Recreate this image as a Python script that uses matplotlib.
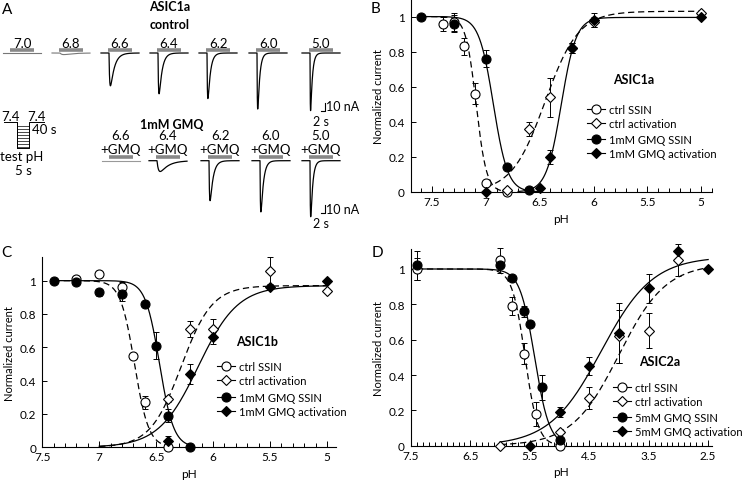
import numpy as np
import matplotlib
matplotlib.use("Agg")
import matplotlib.pyplot as plt
from matplotlib.lines import Line2D
from matplotlib.ticker import MultipleLocator, FuncFormatter

plt.rcParams['font.family'] = ['Lato', 'DejaVu Sans']
plt.rcParams['font.size'] = 7.5

# ---------------- panel A: traces (peak amplitudes in nA) ----------------
ctrl_labels = ["7.0", "6.8", "6.6", "6.4", "6.2", "6.0", "5.0"]
ctrl_peak = [0, 2, 41, 51, 57, 70, 72]
ctrl_rise = [1, 3, 0.8, 0.6, 0.5, 0.4, 0.3]
ctrl_decay = [5, 8, 4, 3, 2.5, 2, 1.8]
gmq_labels = ["6.6", "6.4", "6.2", "6.0", "5.0"]
gmq_peak = [0, 13.5, 50, 64, 70]
gmq_rise = [1, 2.0, 0.6, 0.5, 0.4]
gmq_decay = [5, 8, 3, 2.5, 2]

# ---------------- panel B: ASIC1a ----------------
b_ctrl_ssin_ph = [7.4, 7.3, 7.2, 7.1, 7.0, 6.8]
b_ctrl_ssin = [0.96, 0.97, 0.83, 0.56, 0.05, 0.0]
b_ctrl_ssin_err = [0.04, 0.05, 0.05, 0.06, 0, 0]
b_ctrl_act_ph = [6.8, 6.6, 6.4, 6.2, 6.0, 5.0]
b_ctrl_act = [0.01, 0.36, 0.54, 0.82, 0.97, 1.02]
b_ctrl_act_err = [0, 0.04, 0.11, 0.03, 0.03, 0]
b_gmq_ssin_ph = [7.6, 7.3, 7.0, 6.8, 6.6]
b_gmq_ssin = [1.0, 0.96, 0.76, 0.14, 0.01]
b_gmq_ssin_err = [0, 0.05, 0.05, 0, 0]
b_gmq_act_ph = [7.0, 6.5, 6.4, 6.2, 6.0, 5.0]
b_gmq_act = [0.0, 0.02, 0.2, 0.82, 0.98, 1.0]
b_gmq_act_err = [0, 0, 0.04, 0.03, 0.04, 0]
# Hill fits: (pH50, n, max, pH from, pH to)
b_fits = {"ctrl_ssin": (7.09, 9, 1.0, 7.6, 6.8), "ctrl_act": (6.45, 2.8, 1.03, 7.0, 5.0),
          "gmq_ssin": (6.93, 6.5, 1.0, 7.6, 6.5), "gmq_act": (6.3, 6.3, 0.995, 6.7, 5.0)}

# ---------------- panel C: ASIC1b ----------------
c_ctrl_ssin_ph = [7.2, 7.0, 6.8, 6.7, 6.6, 6.4]
c_ctrl_ssin = [1.01, 1.04, 0.96, 0.55, 0.27, 0.0]
c_ctrl_ssin_err = [0.02, 0.02, 0.03, 0, 0.04, 0]
c_ctrl_act_ph = [6.4, 6.2, 6.0, 5.5, 5.0]
c_ctrl_act = [0.29, 0.71, 0.71, 1.06, 0.94]
c_ctrl_act_err = [0.02, 0.05, 0.06, 0.08, 0]
c_gmq_ssin_ph = [7.4, 7.2, 7.0, 6.8, 6.6, 6.5, 6.4, 6.2]
c_gmq_ssin = [1.0, 0.99, 0.93, 0.92, 0.86, 0.61, 0.19, 0.0]
c_gmq_ssin_err = [0, 0.01, 0.02, 0.04, 0, 0.08, 0.04, 0]
c_gmq_act_ph = [6.4, 6.2, 6.0, 5.5, 5.0]
c_gmq_act = [0.04, 0.44, 0.66, 0.96, 1.0]
c_gmq_act_err = [0.03, 0.06, 0.04, 0, 0]
c_fits = {"ctrl_ssin": (6.69, 7, 1.0, 7.4, 6.4), "ctrl_act": (6.28, 3.2, 0.97, 7.0, 5.0),
          "gmq_ssin": (6.47, 7, 1.0, 7.4, 6.2), "gmq_act": (6.13, 2.5, 0.97, 7.0, 5.0)}

# ---------------- panel D: ASIC2a ----------------
d_ctrl_ssin_ph = [7.4, 6.0, 5.8, 5.6, 5.4, 5.0]
d_ctrl_ssin = [1.0, 1.05, 0.79, 0.52, 0.18, 0.0]
d_ctrl_ssin_err = [0.06, 0.07, 0.05, 0.06, 0.07, 0]
d_ctrl_act_ph = [6.0, 5.0, 4.5, 4.0, 3.5, 3.0]
d_ctrl_act = [0.0, 0.08, 0.27, 0.62, 0.65, 1.05]
d_ctrl_act_err = [0, 0, 0.06, 0.15, 0.1, 0.09]
d_gmq_ssin_ph = [7.4, 6.0, 5.8, 5.6, 5.5, 5.3, 5.0]
d_gmq_ssin = [1.02, 1.02, 0.95, 0.76, 0.69, 0.33, 0.03]
d_gmq_ssin_err = [0.08, 0, 0, 0.03, 0, 0.07, 0]
d_gmq_act_ph = [5.5, 5.0, 4.5, 4.0, 3.5, 3.0, 2.5]
d_gmq_act = [0.0, 0.19, 0.45, 0.64, 0.89, 1.1, 1.0]
d_gmq_act_err = [0, 0.03, 0.05, 0.17, 0.08, 0, 0]
d_fits = {"ctrl_ssin": (5.58, 4, 1.0, 7.4, 5.0), "ctrl_act": (4.0, 1.1, 1.03, 6.0, 2.5),
          "gmq_ssin": (5.42, 3.5, 1.0, 7.4, 5.0), "gmq_act": (4.3, 1.0, 1.07, 6.0, 2.5)}


def hill(fit, kind):
    ph50, n, top, p0, p1 = fit
    ph = np.linspace(p0, p1, 300)
    if kind == "ssin":
        return ph, top / (1 + 10 ** (n * (ph50 - ph)))
    return ph, top / (1 + 10 ** (n * (ph - ph50)))


def dose_panel(ax, data, fits, name, gmq_name, xlim, ylim, label_pos, leg1, leg2,
               xmajor=0.5, xoffset=0.0):
    (cs_x, cs_y, cs_e, ca_x, ca_y, ca_e, gs_x, gs_y, gs_e, ga_x, ga_y, ga_e) = data
    for key, ls in (("ctrl_ssin", (0, (5, 3))), ("ctrl_act", (0, (5, 3))),
                    ("gmq_ssin", "-"), ("gmq_act", "-")):
        x, y = hill(fits[key], key.split("_")[1])
        ax.plot(x, y, color="k", lw=0.9, ls=ls, zorder=2)
    sets = [(cs_x, cs_y, cs_e, "o", "white"), (ca_x, ca_y, ca_e, "D", "white"),
            (gs_x, gs_y, gs_e, "o", "black"), (ga_x, ga_y, ga_e, "D", "black")]
    for x, y, e, m, fc in sets:
        ax.errorbar(x, y, yerr=e, fmt="none", ecolor="k", elinewidth=0.7,
                    capsize=2, capthick=0.7, zorder=3, clip_on=False)
        ax.plot(x, y, ls="none", marker=m, ms=6.5 if m == "o" else 5.5, mfc=fc,
                mec="k", mew=0.8, zorder=4, clip_on=False)
    ax.set_xlim(*xlim)
    ax.set_ylim(*ylim)
    for s in ("top", "right"):
        ax.spines[s].set_visible(False)
    ax.spines["left"].set_linewidth(0.8)
    ax.spines["bottom"].set_linewidth(0.8)
    ax.xaxis.set_major_locator(MultipleLocator(xmajor, offset=xoffset))
    ax.xaxis.set_minor_locator(MultipleLocator(0.1))
    ax.yaxis.set_major_locator(MultipleLocator(0.2))
    ax.xaxis.set_major_formatter(FuncFormatter(lambda v, p: "%g" % round(v, 2)))
    ax.yaxis.set_major_formatter(FuncFormatter(lambda v, p: "%g" % round(v, 2)))
    ax.tick_params(direction="in", labelsize=8.5, width=0.7, pad=3)
    ax.tick_params(axis="x", which="major", length=4)
    ax.tick_params(axis="x", which="minor", length=3, width=0.7, direction="in")
    ax.tick_params(axis="y", length=3.5, pad=4.5)
    ax.set_xlabel("pH", fontsize=8.5, labelpad=4)
    ax.set_ylabel("Normalized current", fontsize=8, labelpad=3)
    ax.text(label_pos[0], label_pos[1], name, transform=ax.transAxes, fontsize=9,
            fontweight="bold", ha="center", va="center")
    kw = dict(ls="-", color="k", lw=0.8, ms=6.5, mec="k", mew=0.8)
    h1 = [Line2D([], [], marker="o", mfc="white", **kw),
          Line2D([], [], marker="D", mfc="white", **dict(kw, ms=5.5))]
    h2 = [Line2D([], [], marker="o", mfc="black", **kw),
          Line2D([], [], marker="D", mfc="black", **dict(kw, ms=5.5))]
    lkw = dict(loc="upper left", frameon=False, fontsize=8, handlelength=1.6,
               handletextpad=0.35, labelspacing=0.25, borderpad=0, borderaxespad=0)
    l1 = ax.legend(h1, ["ctrl SSIN", "ctrl activation"], bbox_to_anchor=leg1, **lkw)
    ax.add_artist(l1)
    ax.legend(h2, [gmq_name + " SSIN", gmq_name + " activation"],
              bbox_to_anchor=leg2, **lkw)


W, H = 745, 481
fig = plt.figure(figsize=(W / 100, H / 100), dpi=100)


def px_axes(left, top, right, bottom):
    return fig.add_axes([left / W, 1 - bottom / H, (right - left) / W, (bottom - top) / H])


# ---- panel A drawing (axes in pixel-like units) ----
axa = px_axes(0, 0, 370, 235)
axa.set_xlim(0, 370)
axa.set_ylim(235, 0)
axa.axis("off")
px_per_nA = 0.8
trace_len = 38


def trace(x0, y0, amp, tr, td, color="k", lw=0.9):
    x = np.linspace(0, trace_len, 600)
    t = x - 8
    tc = np.clip(t, 0, None)
    shape = np.where(t > 0, (1 - np.exp(-tc / tr)) * np.exp(-tc / td), 0)
    if shape.max() > 0:
        shape = shape / shape.max()
    axa.plot(x0 + x, y0 + amp * px_per_nA * shape, color=color, lw=lw)


ctrl_x0 = [3, 52, 101, 150, 199, 249, 302]
for i, lab in enumerate(ctrl_labels):
    x0 = ctrl_x0[i]
    light = ctrl_peak[i] < 5
    trace(x0, 54, ctrl_peak[i], ctrl_rise[i], ctrl_decay[i],
          color="#777777" if light else "k", lw=0.8 if light else 0.9)
    axa.plot([x0 + 7, x0 + 31], [51.3, 51.3], color="#888888", lw=2.6, solid_capstyle="butt")
    axa.text(x0 + 19, 43.5, lab, ha="center", va="center", fontsize=9.5)

gmq_x0 = [102, 149, 201, 252, 302]
for i, lab in enumerate(gmq_labels):
    x0 = gmq_x0[i]
    light = gmq_peak[i] < 5
    trace(x0, 161.7, gmq_peak[i], gmq_rise[i], gmq_decay[i],
          color="#999999" if light else "k", lw=0.8 if light else 0.9)
    axa.plot([x0 + 7, x0 + 31], [157.5, 157.5], color="#888888", lw=2.6, solid_capstyle="butt")
    axa.text(x0 + 19, 136.5, lab, ha="center", va="center", fontsize=9.5)
    axa.text(x0 + 19, 149.5, "+GMQ", ha="center", va="center", fontsize=9.5)

# scale bars
for yb, yt in ((112, 108), (214, 211)):
    axa.plot([320.5, 325, 325], [yb, yb, yb - 10 * px_per_nA], color="k", lw=0.8)
    axa.text(326.5, yt - 1, "10 nA", ha="left", va="center", fontsize=9)
    axa.text(321, yb + 10, "2 s", ha="center", va="center", fontsize=9)

# protocol schematic
axa.plot([4, 17, 17, 29, 29, 44], [123, 123, 149, 149, 123, 123], color="k", lw=0.7)
for yy in np.arange(126.5, 148, 3):
    axa.plot([17, 29], [yy, yy], color="k", lw=0.5)
axa.plot([17, 17], [123, 149], color="k", lw=0.7)
axa.text(11, 117, "7.4", ha="center", va="center", fontsize=9.5)
axa.text(36.5, 117, "7.4", ha="center", va="center", fontsize=9.5)
axa.text(31.5, 129.5, "40 s", ha="left", va="center", fontsize=9.5)
axa.text(22, 157, "test pH", ha="center", va="center", fontsize=9.5)
axa.text(23, 171, "5 s", ha="center", va="center", fontsize=9.5)

axa.text(170, 7, "ASIC1a", ha="center", va="center", fontsize=9, fontweight="bold")
axa.text(170, 25, "control", ha="center", va="center", fontsize=9, fontweight="bold")
axa.text(172, 125, "1mM GMQ", ha="center", va="center", fontsize=9, fontweight="bold")

# ---- dose-response panels ----
axb = px_axes(411, 0, 712, 193)
dose_panel(axb, (b_ctrl_ssin_ph, b_ctrl_ssin, b_ctrl_ssin_err, b_ctrl_act_ph, b_ctrl_act,
                 b_ctrl_act_err, b_gmq_ssin_ph, b_gmq_ssin, b_gmq_ssin_err, b_gmq_act_ph,
                 b_gmq_act, b_gmq_act_err),
           b_fits, "ASIC1a", "1mM GMQ", (7.695, 4.9), (0, 1.1), (0.739, 0.585),
           (0.585, 0.455), (0.585, 0.30))

axc = px_axes(42.3, 258.3, 336, 448.3)
dose_panel(axc, (c_ctrl_ssin_ph, c_ctrl_ssin, c_ctrl_ssin_err, c_ctrl_act_ph, c_ctrl_act,
                 c_ctrl_act_err, c_gmq_ssin_ph, c_gmq_ssin, c_gmq_ssin_err, c_gmq_act_ph,
                 c_gmq_act, c_gmq_act_err),
           c_fits, "ASIC1b", "1mM GMQ", (7.5, 4.92), (0, 1.14), (0.731, 0.56),
           (0.595, 0.455), (0.595, 0.29))

axd = px_axes(411, 250, 711.7, 446.7)
dose_panel(axd, (d_ctrl_ssin_ph, d_ctrl_ssin, d_ctrl_ssin_err, d_ctrl_act_ph, d_ctrl_act,
                 d_ctrl_act_err, d_gmq_ssin_ph, d_gmq_ssin, d_gmq_ssin_err, d_gmq_act_ph,
                 d_gmq_act, d_gmq_act_err),
           d_fits, "ASIC2a", "5mM GMQ", (7.5, 2.44), (0, 1.113), (0.828, 0.43),
           (0.672, 0.325), (0.672, 0.17), xmajor=1.0, xoffset=0.5)

# panel letters
for lx, ly, letter in ((7, 10, "A"), (376, 9, "B"), (6, 253, "C"), (377, 253, "D")):
    fig.text(lx / W, 1 - ly / H, letter, ha="center", va="center", fontsize=11)

fig.savefig("out.png", dpi=100)
